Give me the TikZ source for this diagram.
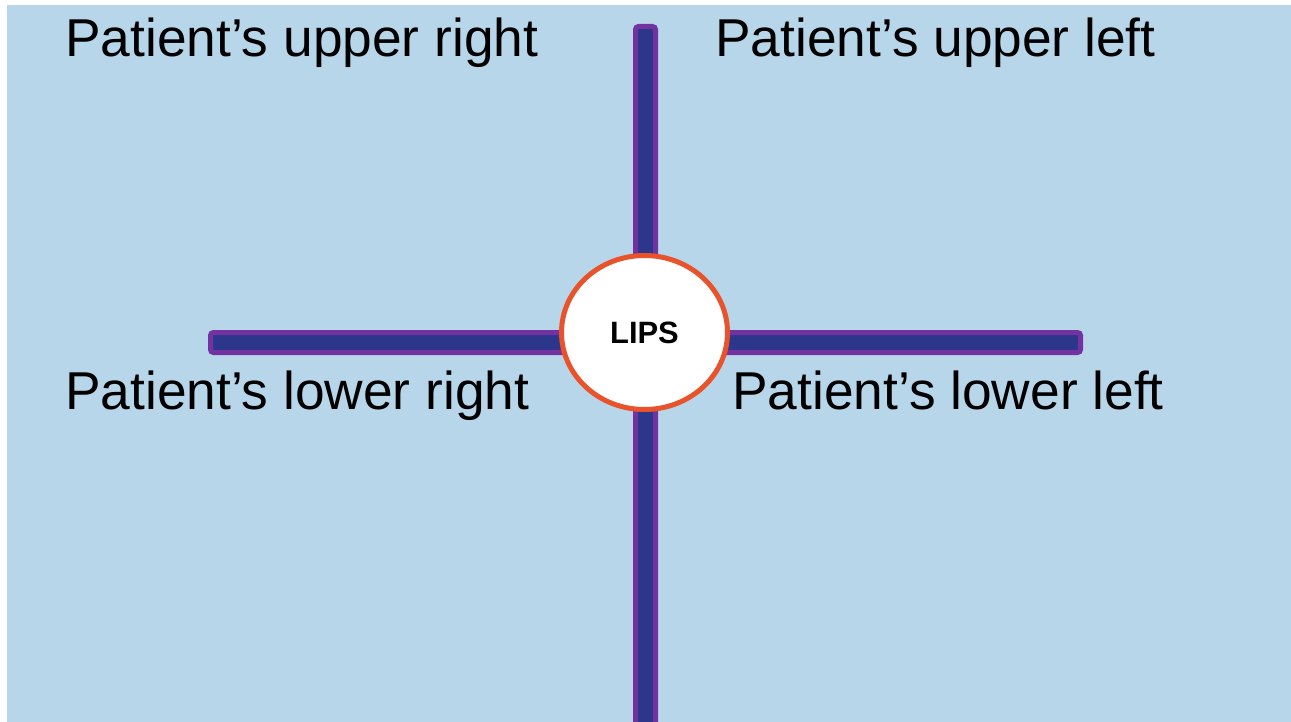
\documentclass[tikz,border=0pt]{standalone}
\usepackage{fontspec}
\setmainfont{Liberation Sans}
\usetikzlibrary{shapes.geometric}
\definecolor{paneblue}{HTML}{B7D6EA}
\definecolor{barnavy}{HTML}{2C378C}
\definecolor{barpurple}{HTML}{7232A0}
\definecolor{ringorange}{HTML}{E9532B}
\tikzset{
  x=1bp, y=-1bp,
  bar/.style={draw=barpurple, fill=barnavy, line width=5bp, rounded corners=3bp},
  quadlabel/.style={anchor=base west, inner sep=0pt, font=\fontsize{53.5}{60}\selectfont},
  lipsnode/.style={ellipse, draw=ringorange, fill=white, line width=5bp,
    minimum width=166bp, minimum height=154bp, inner sep=0pt,
    font=\fontsize{31}{34}\bfseries\selectfont}
}
\begin{document}
\begin{tikzpicture}
  \useasboundingbox (0,0) rectangle (1291,722);
  \fill[white] (0,0) rectangle (1291,722);
  \fill[paneblue] (7,5) rectangle (1291,722);
  \begin{scope}
    \clip (7,5) rectangle (1291,722);
    % vertical axis
    \draw[bar] (635.5,26.5) rectangle (655.5,740);
    % horizontal axis
    \draw[bar] (210.5,332.5) rectangle (1080.5,352.5);
  \end{scope}
  % centre marker
  \node[lipsnode] (lips) at (644.5,332.5) {LIPS};
  % quadrant labels
  \node[quadlabel] (ur) at (65,57) {Patient’s upper right};
  \node[quadlabel] (ul) at (715,57) {Patient’s upper left};
  \node[quadlabel] (lr) at (65,409) {Patient’s lower right};
  \node[quadlabel] (ll) at (732,409) {Patient’s lower left};
\end{tikzpicture}
\end{document}
